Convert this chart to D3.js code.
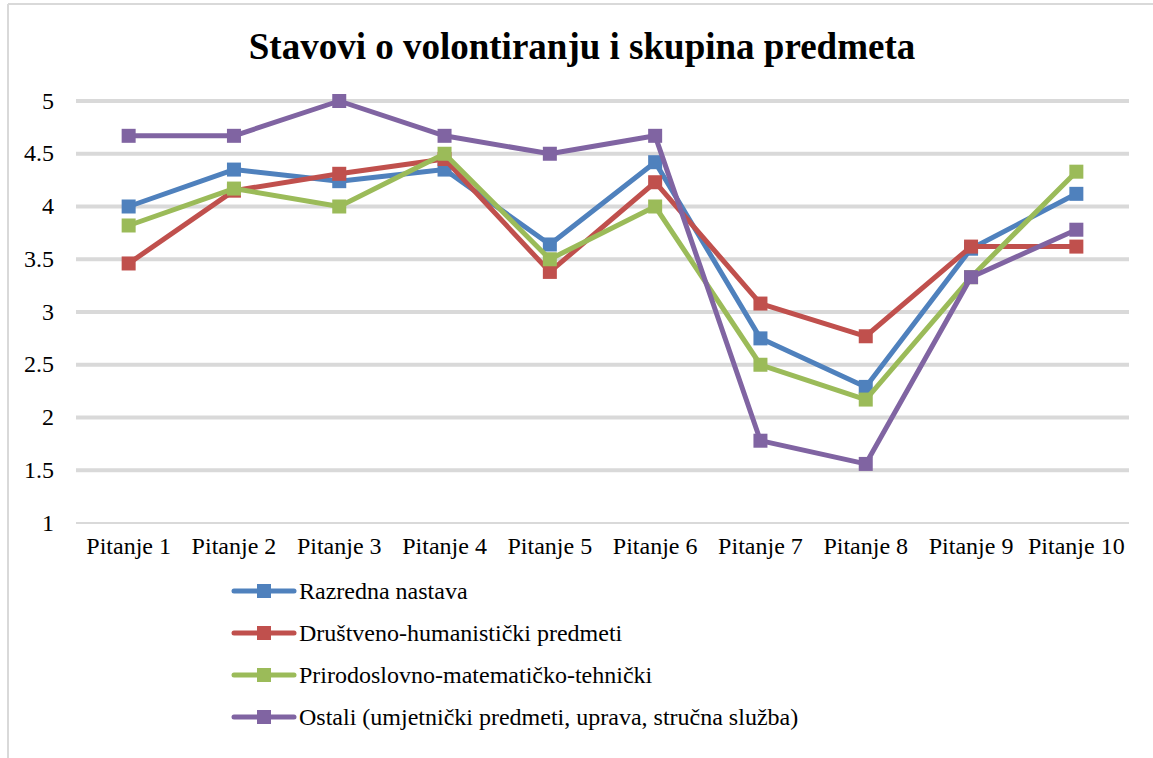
<!DOCTYPE html>
<html><head><meta charset="utf-8">
<script src="https://cdn.jsdelivr.net/npm/d3@7"></script>
<style>body{margin:0;background:#fff;} svg{display:block;}</style>
</head><body>
<svg id="c" width="1153" height="758"></svg>
<script>
const categories = ["Pitanje 1","Pitanje 2","Pitanje 3","Pitanje 4","Pitanje 5","Pitanje 6","Pitanje 7","Pitanje 8","Pitanje 9","Pitanje 10"];
const seriesNames = ["Razredna nastava","Društveno-humanistički predmeti","Prirodoslovno-matematičko-tehnički","Ostali (umjetnički predmeti, uprava, stručna služba)"];
const razredna = [4.0, 4.35, 4.24, 4.35, 3.64, 4.42, 2.75, 2.29, 3.6, 4.12];
const drustveno = [3.46, 4.15, 4.31, 4.45, 3.38, 4.23, 3.08, 2.77, 3.62, 3.62];
const prirodoslovno = [3.82, 4.17, 4.0, 4.5, 3.5, 4.0, 2.5, 2.17, 3.33, 4.33];
const ostali = [4.67, 4.67, 5.0, 4.67, 4.5, 4.67, 1.78, 1.56, 3.33, 3.78];
const yTicks = [1, 1.5, 2, 2.5, 3, 3.5, 4, 4.5, 5];
const colors = ["#4f81bd","#c0504d","#9bbb59","#8064a2"];
const seriesData = [razredna, drustveno, prirodoslovno, ostali];
const FONT = "'Liberation Serif', 'Times New Roman', serif";

const svg = d3.select("#c");
svg.append("line").attr("x1",8).attr("x2",8).attr("y1",4).attr("y2",758).attr("stroke","#d9d9d9").attr("stroke-width",2);
svg.append("line").attr("x1",8).attr("x2",1153).attr("y1",4).attr("y2",4).attr("stroke","#d9d9d9").attr("stroke-width",2);

svg.append("text").attr("x",582).attr("y",59).attr("text-anchor","middle")
  .style("font-family",FONT).attr("font-size",37).attr("font-weight","bold").attr("fill","#000")
  .text("Stavovi o volontiranju i skupina predmeta");

const x = d3.scaleBand().domain(categories).range([76,1129]);
const y = d3.scaleLinear().domain([1,5]).range([523,101]);

const grid = svg.append("g");
yTicks.forEach(t=>{
  grid.append("line").attr("x1",76).attr("x2",1129).attr("y1",y(t)).attr("y2",y(t))
    .attr("stroke","#d9d9d9").attr("stroke-width", t===1?2:4);
});
const yAxis = svg.append("g").attr("transform","translate(54,0)")
  .call(d3.axisLeft(y).tickValues(yTicks).tickSize(0).tickPadding(0).tickFormat(d3.format("")));
yAxis.select(".domain").remove();
yAxis.selectAll("text").style("font-family",FONT).attr("font-size",24).attr("fill","#000").attr("dy","0.3em");

const xAxis = svg.append("g").attr("transform","translate(0,523)")
  .call(d3.axisBottom(x).tickSize(0).tickPadding(0));
xAxis.select(".domain").remove();
xAxis.selectAll("text").style("font-family",FONT).attr("font-size",24).attr("fill","#000").attr("dy","1.3em");

const line = d3.line().x((d,i)=>x(categories[i])+x.bandwidth()/2).y(d=>y(d));
seriesData.forEach((s,k)=>{
  svg.append("path").datum(s).attr("d",line).attr("fill","none").attr("stroke",colors[k])
    .attr("stroke-width",5).attr("stroke-linejoin","round").attr("stroke-linecap","round");
  svg.selectAll(null).data(s).enter().append("rect")
    .attr("x",(d,i)=>x(categories[i])+x.bandwidth()/2-7).attr("y",d=>y(d)-7)
    .attr("width",14).attr("height",14).attr("fill",colors[k]);
});

const leg = svg.append("g");
seriesNames.forEach((n,k)=>{
  const cy = 591 + k*42;
  leg.append("line").attr("x1",234).attr("x2",294).attr("y1",cy).attr("y2",cy)
    .attr("stroke",colors[k]).attr("stroke-width",5).attr("stroke-linecap","round");
  leg.append("rect").attr("x",257).attr("y",cy-7).attr("width",14).attr("height",14).attr("fill",colors[k]);
  leg.append("text").attr("x",299).attr("y",cy+8).style("font-family",FONT).attr("font-size",24).attr("fill","#000").text(n);
});
</script>
</body></html>
